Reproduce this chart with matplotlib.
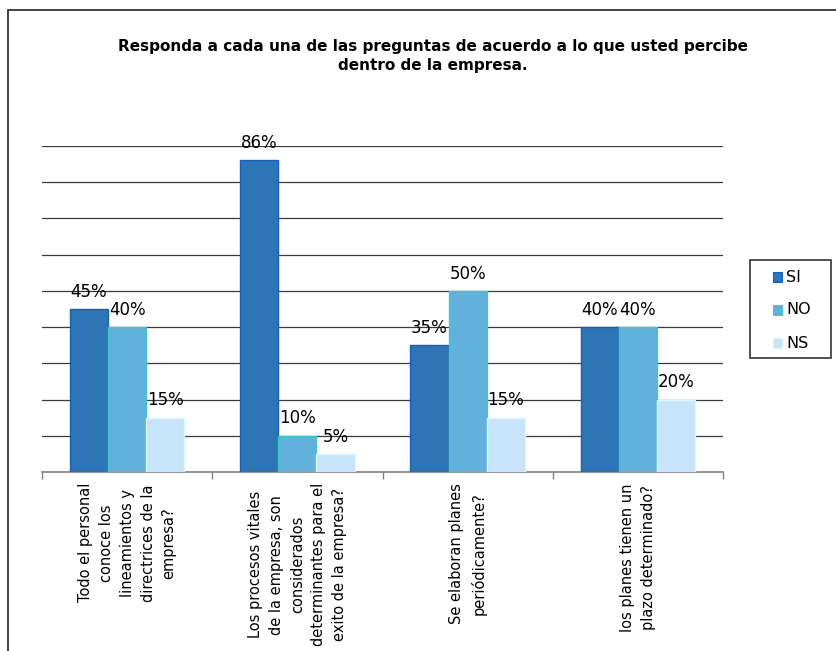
import numpy as np
import matplotlib.pyplot as plt
from matplotlib.patches import Rectangle

plt.rcParams['font.family'] = ['DejaVu Sans']

categories = [
    "Todo el personal\nconoce los\nlineamientos y\ndirectrices de la\nempresa?",
    "Los procesos vitales\nde la empresa, son\nconsiderados\ndeterminantes para el\nexito de la empresa?",
    "Se elaboran planes\nperiódicamente?",
    "los planes tienen un\nplazo determinado?",
]
series_names = ["SI", "NO", "NS"]
si_vals = [0.45, 0.86, 0.35, 0.40]
no_vals = [0.40, 0.10, 0.50, 0.40]
ns_vals = [0.15, 0.05, 0.15, 0.20]

faces = ["#2E75B6", "#62B0DC", "#C8E4FA"]
edges = ["#1660BE", "#3CC8C8", "#DAF6FF"]

W, H = 836, 651
fig = plt.figure(figsize=(W / 100, H / 100), dpi=100)
ax = fig.add_axes([42 / W, 1 - 472 / H, (723 - 42) / W, (472 - 146) / H])

# outer chart frame (runs off the right and bottom edges)
fig.patches.append(Rectangle((8 / W, -0.1), 1.2, 1 - 10 / H + 0.1,
                             transform=fig.transFigure, fill=False,
                             edgecolor="#333333", linewidth=1.3))

x = np.arange(len(categories))
w = 0.224
for k, vals in enumerate([si_vals, no_vals, ns_vals]):
    pos = x + (k - 1) * w
    bars = ax.bar(pos, vals, w, color=faces[k], edgecolor=edges[k],
                  linewidth=1, label=series_names[k], zorder=3)
    for b, v in zip(bars, vals):
        ax.annotate(f"{v:.0%}", (b.get_x() + b.get_width() / 2, v),
                    xytext=(0, 6), textcoords="offset points",
                    ha="center", va="bottom", fontsize=12)

ax.set_xlim(-0.5, len(categories) - 0.5)
ax.set_ylim(0, 0.9)
ax.set_yticks(np.arange(0.1, 0.91, 0.1))
ax.yaxis.grid(True, color="#3a3a3a", linewidth=0.9)
ax.set_axisbelow(True)
ax.tick_params(axis="y", left=False, labelleft=False)

for s in ["left", "right", "top"]:
    ax.spines[s].set_visible(False)
ax.spines["bottom"].set_color("#7f7f7f")
ax.spines["bottom"].set_linewidth(1.2)

ax.set_xticks(x)
ax.set_xticklabels(categories, rotation=90, ha="center", va="top",
                   multialignment="center", fontsize=10.5, linespacing=1.5)
ax.tick_params(axis="x", which="major", length=0, pad=8)
ax.set_xticks(np.arange(-0.5, len(categories)), minor=True)
ax.tick_params(axis="x", which="minor", length=5, color="#7f7f7f", width=1)

fig.text(433 / W, 1 - 56 / H,
         "Responda a cada una de las preguntas de acuerdo a lo que usted percibe\ndentro de la empresa.",
         ha="center", va="center", fontsize=11, fontweight="bold", linespacing=1.3)

# legend box drawn by hand
fig.patches.append(Rectangle((750 / W, 1 - 358 / H), 81 / W, 98 / H,
                             transform=fig.transFigure, facecolor="white",
                             edgecolor="#333333", linewidth=1.2))
for k, name in enumerate(series_names):
    yc = 277 + 33 * k
    fig.patches.append(Rectangle((773 / W, 1 - (yc + 5) / H), 9 / W, 10 / H,
                                 transform=fig.transFigure, facecolor=faces[k],
                                 edgecolor=edges[k], linewidth=0.8))
    fig.text(786 / W, 1 - yc / H, name, ha="left", va="center", fontsize=11.5)

fig.savefig("out.png", dpi=100)
